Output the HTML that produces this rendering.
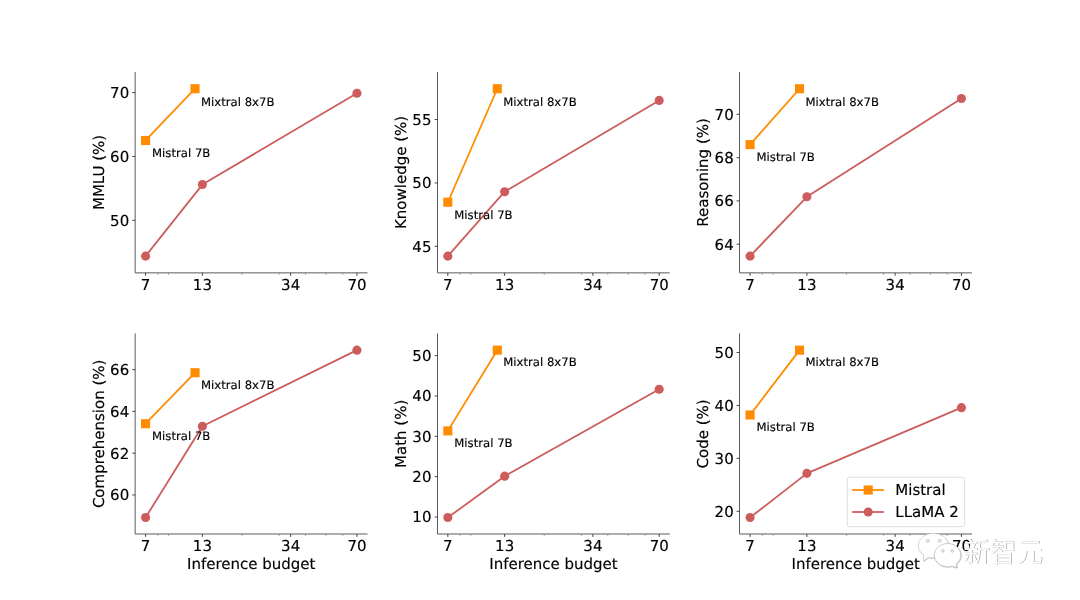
<!DOCTYPE html>
<html lang="en"><head><meta charset="utf-8"><title>Mistral vs LLaMA 2</title>
<style>html,body{margin:0;padding:0;background:#fff;}svg{display:block;}text{font-family:"DejaVu Sans", "Liberation Sans", sans-serif;fill:#000;text-rendering:geometricPrecision;stroke:#000;stroke-width:0.15px;}.t{font-size:15px;}.l{font-size:15px;}.a{font-size:11.67px;}.g{font-size:15px;}.wm{font-family:"Liberation Sans","Noto Sans CJK SC",sans-serif;}</style></head><body>
<svg width="1080" height="600" viewBox="0 0 1080 600">
<rect width="1080" height="600" fill="#fff"/>
<g>
<path d="M135.17 72.00V272.87H367.50" fill="none" stroke="#5a5a5a" stroke-width="1"/>
<path d="M135.17 220.35h-2.9M135.17 156.46h-2.9M135.17 92.57h-2.9M145.57 272.87v2.9M202.39 272.87v2.9M290.64 272.87v2.9M356.93 272.87v2.9" stroke="#444" stroke-width="1" fill="none"/>
<path d="M157.83 272.87v1.7M168.64 272.87v1.7M241.94 272.87v1.7M279.15 272.87v1.7M305.56 272.87v1.7M326.04 272.87v1.7M342.78 272.87v1.7" stroke="#8a8a8a" stroke-width="1" fill="none"/>
<text class="t" transform="translate(129.20 225.75) scale(1 1)" text-anchor="end">50</text>
<text class="t" transform="translate(129.20 161.86) scale(1 1)" text-anchor="end">60</text>
<text class="t" transform="translate(129.20 97.97) scale(1 1)" text-anchor="end">70</text>
<text class="t" transform="translate(145.57 290.20) scale(1 1)" text-anchor="middle">7</text>
<text class="t" transform="translate(202.39 290.20) scale(1 1)" text-anchor="middle">13</text>
<text class="t" transform="translate(290.64 290.20) scale(1 1)" text-anchor="middle">34</text>
<text class="t" transform="translate(356.93 290.20) scale(1 1)" text-anchor="middle">70</text>
<text class="l" transform="translate(103.50 172.44) rotate(-90)" text-anchor="middle">MMLU (%)</text>
<polyline points="145.57,256.13 202.39,184.57 356.93,93.21" fill="none" stroke="#CD5C5C" stroke-width="1.8" stroke-linejoin="round"/>
<circle cx="145.57" cy="256.13" r="4.55" fill="#CD5C5C"/>
<circle cx="202.39" cy="184.57" r="4.55" fill="#CD5C5C"/>
<circle cx="356.93" cy="93.21" r="4.55" fill="#CD5C5C"/>
<polyline points="145.57,140.49 195.05,88.74" fill="none" stroke="#FF8C00" stroke-width="1.8"/>
<rect x="141.02" y="135.94" width="9.1" height="9.1" fill="#FF8C00"/>
<rect x="190.50" y="84.19" width="9.1" height="9.1" fill="#FF8C00"/>
<text class="a" x="152.07" y="157.29">Mistral 7B</text>
<text class="a" x="201.05" y="105.54">Mixtral 8x7B</text>
</g>
<g>
<path d="M437.50 72.00V272.87H669.75" fill="none" stroke="#5a5a5a" stroke-width="1"/>
<path d="M437.50 246.37h-2.9M437.50 182.96h-2.9M437.50 119.55h-2.9M447.82 272.87v2.9M504.64 272.87v2.9M592.89 272.87v2.9M659.18 272.87v2.9" stroke="#444" stroke-width="1" fill="none"/>
<path d="M460.08 272.87v1.7M470.89 272.87v1.7M544.19 272.87v1.7M581.40 272.87v1.7M607.81 272.87v1.7M628.29 272.87v1.7M645.03 272.87v1.7" stroke="#8a8a8a" stroke-width="1" fill="none"/>
<text class="t" transform="translate(431.45 251.77) scale(1 1)" text-anchor="end">45</text>
<text class="t" transform="translate(431.45 188.36) scale(1 1)" text-anchor="end">50</text>
<text class="t" transform="translate(431.45 124.95) scale(1 1)" text-anchor="end">55</text>
<text class="t" transform="translate(447.82 290.20) scale(1 1)" text-anchor="middle">7</text>
<text class="t" transform="translate(504.64 290.20) scale(1 1)" text-anchor="middle">13</text>
<text class="t" transform="translate(592.89 290.20) scale(1 1)" text-anchor="middle">34</text>
<text class="t" transform="translate(659.18 290.20) scale(1 1)" text-anchor="middle">70</text>
<text class="l" transform="translate(405.75 172.44) rotate(-90)" text-anchor="middle">Knowledge (%)</text>
<polyline points="447.82,256.13 504.64,191.71 659.18,100.41" fill="none" stroke="#CD5C5C" stroke-width="1.8" stroke-linejoin="round"/>
<circle cx="447.82" cy="256.13" r="4.55" fill="#CD5C5C"/>
<circle cx="504.64" cy="191.71" r="4.55" fill="#CD5C5C"/>
<circle cx="659.18" cy="100.41" r="4.55" fill="#CD5C5C"/>
<polyline points="447.82,202.24 497.30,88.74" fill="none" stroke="#FF8C00" stroke-width="1.8"/>
<rect x="443.27" y="197.69" width="9.1" height="9.1" fill="#FF8C00"/>
<rect x="492.75" y="84.19" width="9.1" height="9.1" fill="#FF8C00"/>
<text class="a" x="454.32" y="219.04">Mistral 7B</text>
<text class="a" x="503.30" y="105.54">Mixtral 8x7B</text>
</g>
<g>
<path d="M739.50 72.00V272.87H972.00" fill="none" stroke="#5a5a5a" stroke-width="1"/>
<path d="M739.50 244.22h-2.9M739.50 200.91h-2.9M739.50 157.60h-2.9M739.50 114.29h-2.9M750.07 272.87v2.9M806.89 272.87v2.9M895.14 272.87v2.9M961.43 272.87v2.9" stroke="#444" stroke-width="1" fill="none"/>
<path d="M762.33 272.87v1.7M773.14 272.87v1.7M846.44 272.87v1.7M883.65 272.87v1.7M910.06 272.87v1.7M930.54 272.87v1.7M947.28 272.87v1.7" stroke="#8a8a8a" stroke-width="1" fill="none"/>
<text class="t" transform="translate(733.70 249.62) scale(1 1)" text-anchor="end">64</text>
<text class="t" transform="translate(733.70 206.31) scale(1 1)" text-anchor="end">66</text>
<text class="t" transform="translate(733.70 163.00) scale(1 1)" text-anchor="end">68</text>
<text class="t" transform="translate(733.70 119.69) scale(1 1)" text-anchor="end">70</text>
<text class="t" transform="translate(750.07 290.20) scale(1 1)" text-anchor="middle">7</text>
<text class="t" transform="translate(806.89 290.20) scale(1 1)" text-anchor="middle">13</text>
<text class="t" transform="translate(895.14 290.20) scale(1 1)" text-anchor="middle">34</text>
<text class="t" transform="translate(961.43 290.20) scale(1 1)" text-anchor="middle">70</text>
<text class="l" transform="translate(708.00 172.44) rotate(-90)" text-anchor="middle">Reasoning (%)</text>
<polyline points="750.07,256.13 806.89,196.80 961.43,98.48" fill="none" stroke="#CD5C5C" stroke-width="1.8" stroke-linejoin="round"/>
<circle cx="750.07" cy="256.13" r="4.55" fill="#CD5C5C"/>
<circle cx="806.89" cy="196.80" r="4.55" fill="#CD5C5C"/>
<circle cx="961.43" cy="98.48" r="4.55" fill="#CD5C5C"/>
<polyline points="750.07,144.61 799.55,88.74" fill="none" stroke="#FF8C00" stroke-width="1.8"/>
<rect x="745.52" y="140.06" width="9.1" height="9.1" fill="#FF8C00"/>
<rect x="795.00" y="84.19" width="9.1" height="9.1" fill="#FF8C00"/>
<text class="a" x="756.57" y="161.41">Mistral 7B</text>
<text class="a" x="805.55" y="105.54">Mixtral 8x7B</text>
</g>
<g>
<path d="M135.17 333.43V534.00H367.50" fill="none" stroke="#5a5a5a" stroke-width="1"/>
<path d="M135.17 494.99h-2.9M135.17 453.20h-2.9M135.17 411.40h-2.9M135.17 369.60h-2.9M145.57 534.00v2.9M202.39 534.00v2.9M290.64 534.00v2.9M356.93 534.00v2.9" stroke="#444" stroke-width="1" fill="none"/>
<path d="M157.83 534.00v1.7M168.64 534.00v1.7M241.94 534.00v1.7M279.15 534.00v1.7M305.56 534.00v1.7M326.04 534.00v1.7M342.78 534.00v1.7" stroke="#8a8a8a" stroke-width="1" fill="none"/>
<text class="t" transform="translate(129.20 500.39) scale(1 1)" text-anchor="end">60</text>
<text class="t" transform="translate(129.20 458.60) scale(1 1)" text-anchor="end">62</text>
<text class="t" transform="translate(129.20 416.80) scale(1 1)" text-anchor="end">64</text>
<text class="t" transform="translate(129.20 375.00) scale(1 1)" text-anchor="end">66</text>
<text class="t" transform="translate(145.57 551.00) scale(1 1)" text-anchor="middle">7</text>
<text class="t" transform="translate(202.39 551.00) scale(1 1)" text-anchor="middle">13</text>
<text class="t" transform="translate(290.64 551.00) scale(1 1)" text-anchor="middle">34</text>
<text class="t" transform="translate(356.93 551.00) scale(1 1)" text-anchor="middle">70</text>
<text class="l" transform="translate(103.50 433.87) rotate(-90)" text-anchor="middle">Comprehension (%)</text>
<text class="l" transform="translate(251.25 568.65) scale(1 1)" text-anchor="middle">Inference budget</text>
<polyline points="145.57,517.56 202.39,426.24 356.93,350.17" fill="none" stroke="#CD5C5C" stroke-width="1.8" stroke-linejoin="round"/>
<circle cx="145.57" cy="517.56" r="4.55" fill="#CD5C5C"/>
<circle cx="202.39" cy="426.24" r="4.55" fill="#CD5C5C"/>
<circle cx="356.93" cy="350.17" r="4.55" fill="#CD5C5C"/>
<polyline points="145.57,423.73 195.05,372.74" fill="none" stroke="#FF8C00" stroke-width="1.8"/>
<rect x="141.02" y="419.18" width="9.1" height="9.1" fill="#FF8C00"/>
<rect x="190.50" y="368.19" width="9.1" height="9.1" fill="#FF8C00"/>
<text class="a" x="152.07" y="440.03">Mistral 7B</text>
<text class="a" x="201.05" y="389.04">Mixtral 8x7B</text>
</g>
<g>
<path d="M437.50 333.43V534.00H669.75" fill="none" stroke="#5a5a5a" stroke-width="1"/>
<path d="M437.50 517.00h-2.9M437.50 476.65h-2.9M437.50 436.31h-2.9M437.50 395.96h-2.9M437.50 355.62h-2.9M447.82 534.00v2.9M504.64 534.00v2.9M592.89 534.00v2.9M659.18 534.00v2.9" stroke="#444" stroke-width="1" fill="none"/>
<path d="M460.08 534.00v1.7M470.89 534.00v1.7M544.19 534.00v1.7M581.40 534.00v1.7M607.81 534.00v1.7M628.29 534.00v1.7M645.03 534.00v1.7" stroke="#8a8a8a" stroke-width="1" fill="none"/>
<text class="t" transform="translate(431.45 522.40) scale(1 1)" text-anchor="end">10</text>
<text class="t" transform="translate(431.45 482.05) scale(1 1)" text-anchor="end">20</text>
<text class="t" transform="translate(431.45 441.71) scale(1 1)" text-anchor="end">30</text>
<text class="t" transform="translate(431.45 401.36) scale(1 1)" text-anchor="end">40</text>
<text class="t" transform="translate(431.45 361.02) scale(1 1)" text-anchor="end">50</text>
<text class="t" transform="translate(447.82 551.00) scale(1 1)" text-anchor="middle">7</text>
<text class="t" transform="translate(504.64 551.00) scale(1 1)" text-anchor="middle">13</text>
<text class="t" transform="translate(592.89 551.00) scale(1 1)" text-anchor="middle">34</text>
<text class="t" transform="translate(659.18 551.00) scale(1 1)" text-anchor="middle">70</text>
<text class="l" transform="translate(405.75 433.87) rotate(-90)" text-anchor="middle">Math (%)</text>
<text class="l" transform="translate(553.50 568.65) scale(1 1)" text-anchor="middle">Inference budget</text>
<polyline points="447.82,517.56 504.64,476.17 659.18,389.30" fill="none" stroke="#CD5C5C" stroke-width="1.8" stroke-linejoin="round"/>
<circle cx="447.82" cy="517.56" r="4.55" fill="#CD5C5C"/>
<circle cx="504.64" cy="476.17" r="4.55" fill="#CD5C5C"/>
<circle cx="659.18" cy="389.30" r="4.55" fill="#CD5C5C"/>
<polyline points="447.82,430.90 497.30,350.17" fill="none" stroke="#FF8C00" stroke-width="1.8"/>
<rect x="443.27" y="426.35" width="9.1" height="9.1" fill="#FF8C00"/>
<rect x="492.75" y="345.62" width="9.1" height="9.1" fill="#FF8C00"/>
<text class="a" x="454.32" y="447.20">Mistral 7B</text>
<text class="a" x="503.30" y="366.47">Mixtral 8x7B</text>
</g>
<g>
<path d="M739.50 333.43V534.00H972.00" fill="none" stroke="#5a5a5a" stroke-width="1"/>
<path d="M739.50 511.31h-2.9M739.50 458.38h-2.9M739.50 405.44h-2.9M739.50 352.50h-2.9M750.07 534.00v2.9M806.89 534.00v2.9M895.14 534.00v2.9M961.43 534.00v2.9" stroke="#444" stroke-width="1" fill="none"/>
<path d="M762.33 534.00v1.7M773.14 534.00v1.7M846.44 534.00v1.7M883.65 534.00v1.7M910.06 534.00v1.7M930.54 534.00v1.7M947.28 534.00v1.7" stroke="#8a8a8a" stroke-width="1" fill="none"/>
<text class="t" transform="translate(733.70 516.71) scale(1 1)" text-anchor="end">20</text>
<text class="t" transform="translate(733.70 463.78) scale(1 1)" text-anchor="end">30</text>
<text class="t" transform="translate(733.70 410.84) scale(1 1)" text-anchor="end">40</text>
<text class="t" transform="translate(733.70 357.90) scale(1 1)" text-anchor="end">50</text>
<text class="t" transform="translate(750.07 551.00) scale(1 1)" text-anchor="middle">7</text>
<text class="t" transform="translate(806.89 551.00) scale(1 1)" text-anchor="middle">13</text>
<text class="t" transform="translate(895.14 551.00) scale(1 1)" text-anchor="middle">34</text>
<text class="t" transform="translate(961.43 551.00) scale(1 1)" text-anchor="middle">70</text>
<text class="l" transform="translate(708.00 433.87) rotate(-90)" text-anchor="middle">Code (%)</text>
<text class="l" transform="translate(855.75 568.65) scale(1 1)" text-anchor="middle">Inference budget</text>
<polyline points="750.07,517.56 806.89,473.36 961.43,407.66" fill="none" stroke="#CD5C5C" stroke-width="1.8" stroke-linejoin="round"/>
<circle cx="750.07" cy="517.56" r="4.55" fill="#CD5C5C"/>
<circle cx="806.89" cy="473.36" r="4.55" fill="#CD5C5C"/>
<circle cx="961.43" cy="407.66" r="4.55" fill="#CD5C5C"/>
<polyline points="750.07,414.97 799.55,350.17" fill="none" stroke="#FF8C00" stroke-width="1.8"/>
<rect x="745.52" y="410.42" width="9.1" height="9.1" fill="#FF8C00"/>
<rect x="795.00" y="345.62" width="9.1" height="9.1" fill="#FF8C00"/>
<text class="a" x="756.57" y="431.27">Mistral 7B</text>
<text class="a" x="805.55" y="366.47">Mixtral 8x7B</text>
</g>
<g>
<rect x="847.2" y="477.2" width="117.4" height="49.5" rx="2.2" ry="2.2" fill="#fff" fill-opacity="0.8" stroke="#ccc" stroke-opacity="0.8" stroke-width="0.85"/>
<path d="M852.2 490H883.8" stroke="#FF8C00" stroke-width="1.8"/>
<rect x="863.65" y="485.45" width="9.1" height="9.1" fill="#FF8C00"/>
<text class="g" transform="translate(895.3 495.2) scale(1 1)">Mistral</text>
<path d="M852.2 512H883.8" stroke="#CD5C5C" stroke-width="1.8"/>
<circle cx="868.2" cy="512" r="4.55" fill="#CD5C5C"/>
<text class="g" transform="translate(895.3 517.3) scale(1 1)">LLaMA 2</text>
</g>
<g>
<g fill="#fff" stroke-linejoin="round">
<path d="M928.66 557.30L923.4 560.6L923.66 555.02A15 12.3 0 1 1 928.66 557.30Z" transform="translate(.55 .55)" stroke="#555" stroke-opacity=".42" stroke-width=".8"/>
<path d="M928.66 557.30L923.4 560.6L923.66 555.02A15 12.3 0 1 1 928.66 557.30Z" stroke="#bbb" stroke-opacity=".7" stroke-width=".7"/>
<path d="M956.05 563.99L956.9 567.6L951.61 566.13A13.3 11.6 0 1 1 956.05 563.99Z" transform="translate(.55 .55)" stroke="#555" stroke-opacity=".42" stroke-width=".8"/>
<path d="M956.05 563.99L956.9 567.6L951.61 566.13A13.3 11.6 0 1 1 956.05 563.99Z" stroke="#aaa" stroke-opacity=".8" stroke-width=".7"/>
<g stroke="#888" stroke-opacity=".7" stroke-width=".7"><circle cx="927.9" cy="540.9" r="1.5"/><circle cx="939.7" cy="540.9" r="1.5"/>
<circle cx="942.9" cy="550.9" r="1.3"/><circle cx="952.2" cy="550.9" r="1.3"/></g>
</g>
<text class="wm" transform="translate(963.5 561.7) scale(1 1.025)" font-size="26.5" style="fill:#fff;stroke:none;text-shadow:.6px .6px .35px rgba(0,0,0,.55);">新智元</text>
</g>
</svg></body></html>
